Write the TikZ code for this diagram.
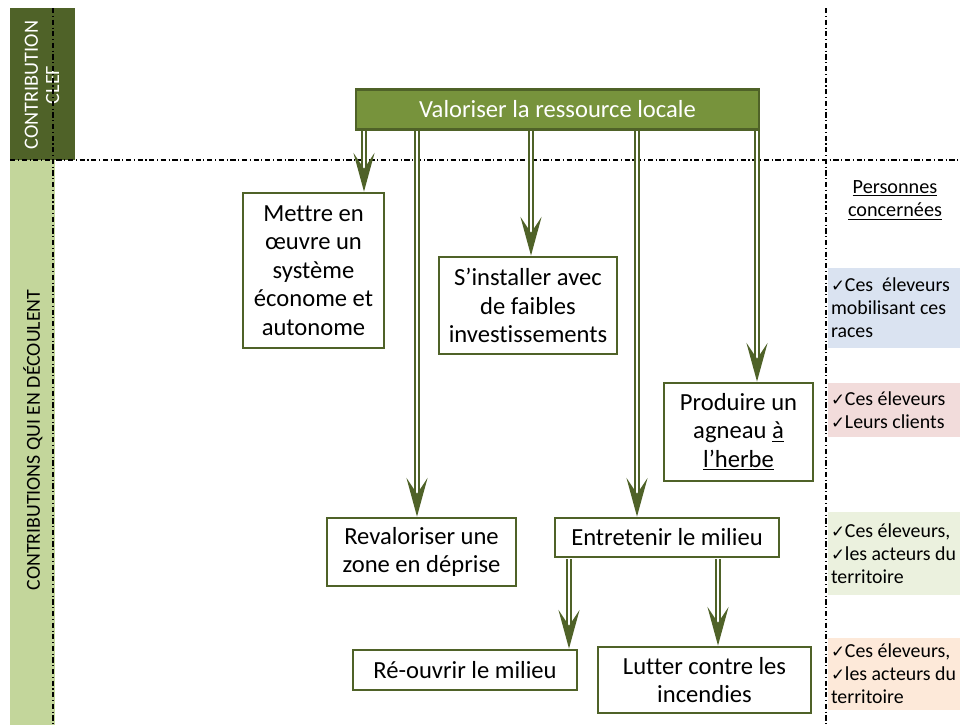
\documentclass[tikz,border=0pt]{standalone}
\usepackage{fontspec}
\setmainfont{Carlito}[Ligatures={NoCommon}]
\newfontfamily\symfont{DejaVu Sans}
\usetikzlibrary{arrows.meta}
\definecolor{darkOlive}{HTML}{4F6228}
\definecolor{midOlive}{HTML}{77933C}
\definecolor{lightOlive}{HTML}{C3D69B}
\definecolor{sideBlue}{HTML}{DAE3F1}
\definecolor{sidePink}{HTML}{F2DCDB}
\definecolor{sideGreen}{HTML}{EBF1DE}
\definecolor{sideOrange}{HTML}{FDE9D9}
\newcommand{\chk}{{\symfont\fontsize{9.5}{10}\selectfont\char"2713}}

\begin{document}
\begin{tikzpicture}
[x=0.02cm,y=-0.02cm,
  boxDecorate/.style={shape=rectangle,draw=darkOlive,line width=1.6pt,fill=white,
    align=center,inner sep=2pt,font=\fontsize{14}{16.2}\selectfont},
  mainDecorate/.style={boxDecorate,fill=midOlive,text=white},
  arrowDecorate/.style={draw=darkOlive,double=white,line width=1.1pt,double distance=1.6pt,
    -{Stealth[length=22pt,width=12pt,inset=9pt]}},
  sideDecorate/.style={shape=rectangle,minimum width=132*0.02cm,text width=126*0.02cm,
    align=flush left,inner sep=0pt,font=\fontsize{11.3}{13}\selectfont},
  splitDecorate/.style={line width=0.6pt,dash pattern=on 3pt off 1.5pt on 0.6pt off 1.5pt}]
\useasboundingbox (0,0) rectangle (960,725);
%% side bars
\fill[darkOlive] (10,8) rectangle (75,160);
\fill[lightOlive] (10,160) rectangle (55,725);
\node (clef) at (42,85) [rotate=90,align=center,text=white,
  font=\fontsize{11.5}{12}\selectfont] {CONTRIBUTION\\CLEF};
\node (decoulent) at (33,440) [rotate=90,font=\fontsize{11.3}{13}\selectfont]
  {CONTRIBUTIONS QUI EN DÉCOULENT};
%% separators
\draw[splitDecorate] (10,160) -- (960,160);
\draw[splitDecorate] (53,8) -- (53,725);
\draw[splitDecorate] (826,8) -- (826,725);
%% nodes or boxes
\node (main) at (557.5,109.5) [mainDecorate,minimum width=403*0.02cm,minimum height=40*0.02cm]
  {Valoriser la ressource locale};
\foreach \nodename/\x/\y/\w/\h/\txt in {
  mettre/313.5/270.5/141/155/{Mettre en\\œuvre un\\système\\économe et\\autonome},
  installer/528/305.5/178/97/{S’installer avec\\de faibles\\investissements},
  produire/738.5/432/149/98/{Produire un\\agneau \underline{à}\\\underline{l’herbe}},
  revaloriser/421.5/552/189/68/{Revaloriser une\\zone en déprise},
  entretenir/667/537.5/224/39/{Entretenir le milieu},
  rouvrir/465/670/224/40/{Ré-ouvrir le milieu},
  lutter/704.5/680/213/66/{Lutter contre les\\incendies}}
{
  \node (\nodename) at (\x,\y) [boxDecorate,minimum width=\w*0.02cm,minimum height=\h*0.02cm] {\txt};
}
%% edges or arrows
\foreach \outname/\x/\y/\endnode in {
  outA/364/131/mettre, outB/417/131/revaloriser, outC/531/131/installer,
  outD/637/131/entretenir, outE/757/131/produire,
  outF/569/559/rouvrir, outG/718/559/lutter}
{
  \coordinate (\outname) at (\x,\y);
  \draw[arrowDecorate] (\outname) -- (\outname |- \endnode.north);
}
%% persons concerned
\node (personnes) at (895,200) [align=center,font=\fontsize{11.5}{13.2}\selectfont]
  {\underline{Personnes}\\\underline{concernées}};
\node (eleveursA) at (894,308) [sideDecorate,fill=sideBlue,minimum height=80*0.02cm]
  {\chk Ces\ \ éleveurs\\mobilisant ces\\races};
\node (eleveursB) at (894,410) [sideDecorate,fill=sidePink,minimum height=54*0.02cm]
  {\chk Ces éleveurs\\\chk Leurs clients};
\node (eleveursC) at (894,553.5) [sideDecorate,fill=sideGreen,minimum height=83*0.02cm]
  {\chk Ces éleveurs,\\\chk les acteurs du\\territoire};
\node (eleveursD) at (894,674) [sideDecorate,fill=sideOrange,minimum height=72*0.02cm]
  {\chk Ces éleveurs,\\\chk les acteurs du\\territoire};
\end{tikzpicture}
\end{document}
